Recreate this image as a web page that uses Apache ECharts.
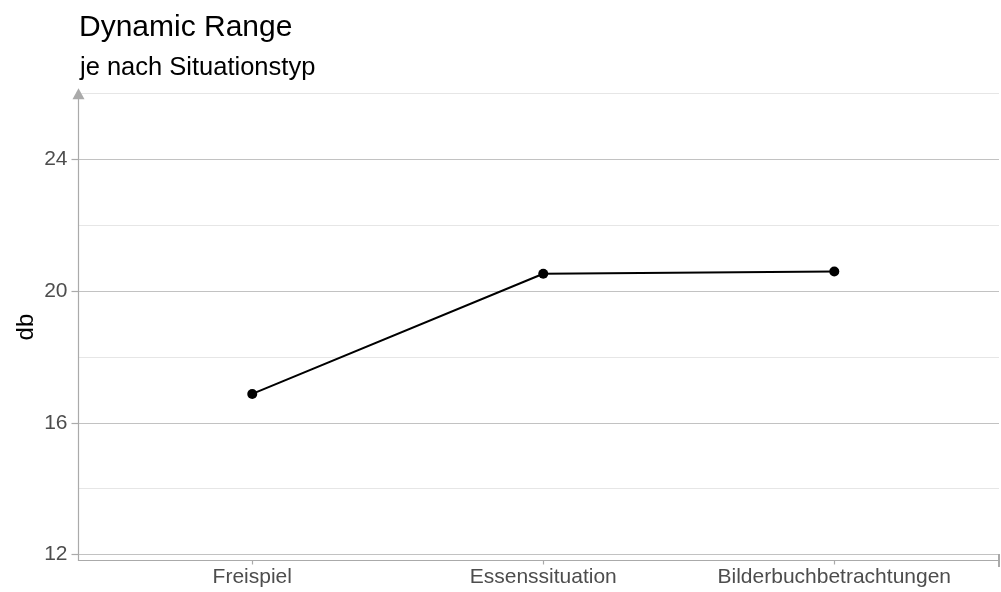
<!DOCTYPE html>
<html>
<head>
<meta charset="utf-8">
<script src="https://cdn.jsdelivr.net/npm/echarts@6/dist/echarts.min.js"></script>
<style>html,body{margin:0;padding:0;background:#fff}#c{width:1001px;height:592px}</style>
</head>
<body>
<div id="c"></div>
<script>
var categories = ['Freispiel', 'Essenssituation', 'Bilderbuchbetrachtungen'];
var values = [16.88, 20.53, 20.6];
var majorTicks = [12, 16, 20, 24];
var minorTicks = [14, 18, 22, 26];

var chart = echarts.init(document.getElementById('c'));
var font = 'Liberation Sans, Arial, sans-serif';
chart.setOption({
  animation: false,
  title: [
    {text: 'Dynamic Range', left: 74, top: 8, textStyle: {fontFamily: font, fontSize: 30, fontWeight: 'normal', color: '#000'}},
    {text: 'je nach Situationstyp', left: 75, top: 50, textStyle: {fontFamily: font, fontSize: 25.5, fontWeight: 'normal', color: '#000'}}
  ],
  grid: {left: 78.5, right: 2, top: 93.7, bottom: 31.5, containLabel: false},
  xAxis: {
    type: 'value', min: -0.597, max: 2.566,
    axisLine: {show: true, onZero: false, lineStyle: {color: '#aaaaaa', width: 1.2}, symbol: ['none', 'rect'], symbolSize: [13, 2]},
    axisTick: {show: true, customValues: [0, 1, 2], length: 4, lineStyle: {color: '#aaaaaa', width: 1.2}},
    axisLabel: {customValues: [0, 1, 2], formatter: function (v) { return categories[Math.round(v)]; }, fontFamily: font, fontSize: 21, color: '#4d4d4d', margin: 6},
    splitLine: {show: false}
  },
  yAxis: [
    {
      type: 'value', min: 11.82, max: 26,
      name: 'db', nameLocation: 'middle', nameGap: 40, nameRotate: 90, nameMoveOverlap: false,
      nameTextStyle: {fontFamily: font, fontSize: 24, color: '#000'},
      axisLine: {show: true, onZero: false, lineStyle: {color: '#aaaaaa', width: 1.2}, symbol: ['none', 'triangle'], symbolSize: [12, 11], symbolOffset: [0, 0]},
      axisTick: {show: true, customValues: majorTicks, length: 7, lineStyle: {color: '#aaaaaa', width: 1.2}},
      axisLabel: {customValues: majorTicks, fontFamily: font, fontSize: 21, color: '#4d4d4d', margin: 11},
      splitLine: {show: true, lineStyle: {color: '#c2c2c2', width: 1.2}}
    },
    {
      type: 'value', min: 11.82, max: 26, position: 'left',
      axisLine: {show: false, onZero: false},
      axisTick: {show: false, customValues: minorTicks},
      axisLabel: {show: false, customValues: minorTicks},
      splitLine: {show: true, lineStyle: {color: '#e6e6e6', width: 1.2}}
    }
  ],
  series: [{
    type: 'line',
    data: categories.map(function (c, i) { return [i, values[i]]; }),
    symbol: 'circle', symbolSize: 10,
    itemStyle: {color: '#000'},
    lineStyle: {color: '#000', width: 2}
  }]
});
</script>
</body>
</html>
